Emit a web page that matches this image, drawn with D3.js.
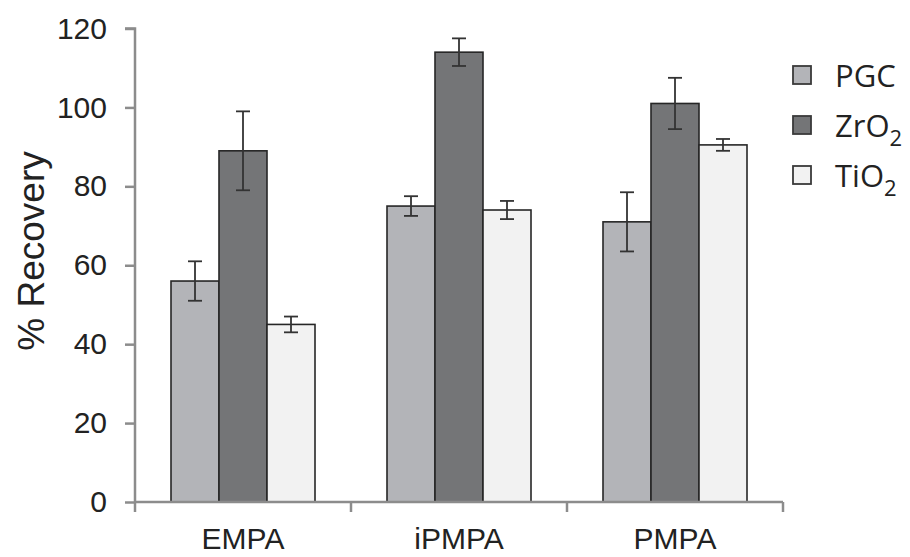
<!DOCTYPE html>
<html>
<head>
<meta charset="utf-8">
<script src="https://cdn.jsdelivr.net/npm/d3@7"></script>
<style>
  html, body { margin: 0; padding: 0; background: #fff; overflow: hidden; }
  svg { display: block; }
  .tick text { font-family: 'Liberation Sans', Arial, sans-serif; font-size: 30px; fill: #222; }
  .axis-label { font-family: 'Liberation Sans', Arial, sans-serif; font-size: 37px; fill: #222; }
  .legend text { font-family: 'Open Sans', sans-serif; font-size: 31px; fill: #222; }
</style>
</head>
<body>
<svg width="910" height="557"></svg>
<script>
const categories = ['EMPA', 'iPMPA', 'PMPA'];
const seriesNames = ['PGC', 'ZrO2', 'TiO2'];
const pgcValues = [56, 75, 71];
const pgcErrors = [5, 2.5, 7.5];
const zro2Values = [89, 114, 101];
const zro2Errors = [10, 3.5, 6.5];
const tio2Values = [45, 74, 90.5];
const tio2Errors = [2, 2.3, 1.5];
const yTicks = [0, 20, 40, 60, 80, 100, 120];

const svg = d3.select('svg');
const width = +svg.attr('width');
const height = +svg.attr('height');

const margin = { top: 28.5, right: 127, bottom: 55, left: 135 };
const innerWidth = width - margin.left - margin.right;
const innerHeight = height - margin.top - margin.bottom;

const colors = { PGC: '#b3b4b8', ZrO2: '#747577', TiO2: '#f2f2f2' };

const table = seriesNames.map((s, si) => {
	const vals = [pgcValues, zro2Values, tio2Values][si];
	const errs = [pgcErrors, zro2Errors, tio2Errors][si];
	return categories.map((c, ci) => ({ series: s, category: c, value: vals[ci], err: errs[ci] }));
}).flat();

const xScale = d3.scaleBand().domain(categories).range([0, innerWidth]).padding(0);
const xInner = d3.scaleBand().domain(seriesNames).range([0, xScale.bandwidth()]).paddingInner(0).paddingOuter(0.75);
const yScale = d3.scaleLinear().domain([0, 120]).range([innerHeight, 0]);

const g = svg.append('g').attr('transform', `translate(${margin.left},${margin.top})`);

// bars
g.selectAll('.bar')
	.data(table)
	.enter()
	.append('rect')
	.attr('class', 'bar')
	.attr('x', d => xScale(d.category) + xInner(d.series))
	.attr('y', d => yScale(d.value))
	.attr('width', xInner.bandwidth())
	.attr('height', d => innerHeight - yScale(d.value))
	.attr('fill', d => colors[d.series])
	.attr('stroke', '#262626')
	.attr('stroke-width', 1.6);

// error bars
const capW = 7;
const errG = g.selectAll('.err').data(table).enter().append('g').attr('class', 'err')
	.attr('stroke', '#333').attr('stroke-width', 1.8);
const cx = d => xScale(d.category) + xInner(d.series) + xInner.bandwidth() / 2;
errG.append('line')
	.attr('x1', cx).attr('x2', cx)
	.attr('y1', d => yScale(d.value + d.err)).attr('y2', d => yScale(d.value - d.err));
errG.append('line')
	.attr('x1', d => cx(d) - capW).attr('x2', d => cx(d) + capW)
	.attr('y1', d => yScale(d.value + d.err)).attr('y2', d => yScale(d.value + d.err));
errG.append('line')
	.attr('x1', d => cx(d) - capW).attr('x2', d => cx(d) + capW)
	.attr('y1', d => yScale(d.value - d.err)).attr('y2', d => yScale(d.value - d.err));

// y axis
const yAxis = d3.axisLeft(yScale).tickValues(yTicks).tickSize(10).tickPadding(18);
const yAxisG = g.append('g').call(yAxis);
yAxisG.select('.domain').attr('stroke', '#8c8c8c').attr('stroke-width', 2.5).attr('d', `M-10,0H0V${innerHeight}`);
yAxisG.selectAll('.tick line').attr('stroke', '#8c8c8c').attr('stroke-width', 2.5);

// x axis with ticks on band boundaries
const xAxisG = g.append('g').attr('transform', `translate(0,${innerHeight})`);
xAxisG.append('path')
	.attr('d', `M0,0H${innerWidth}`)
	.attr('stroke', '#8c8c8c').attr('stroke-width', 2.5).attr('fill', 'none');
const boundaries = categories.map(c => xScale(c)).concat([innerWidth]);
xAxisG.selectAll('.xtick').data(boundaries).enter().append('line')
	.attr('x1', d => d).attr('x2', d => d).attr('y1', 0).attr('y2', 10)
	.attr('stroke', '#8c8c8c').attr('stroke-width', 2.5);
xAxisG.selectAll('.xlabel').data(categories).enter().append('g').attr('class', 'tick')
	.append('text')
	.attr('x', d => xScale(d) + xScale.bandwidth() / 2)
	.attr('y', 47)
	.attr('text-anchor', 'middle')
	.text(d => d);

// axis label
svg.append('text')
	.attr('class', 'axis-label')
	.attr('transform', `translate(44,251) rotate(-90)`)
	.attr('text-anchor', 'middle')
	.text('% Recovery');

// legend
const legendG = svg.append('g').attr('class', 'legend').attr('transform', 'translate(793,75)');
const item = legendG.selectAll('g').data(seriesNames).enter().append('g')
	.attr('transform', (d, i) => `translate(0,${i * 50})`);
item.append('rect')
	.attr('x', 0).attr('y', -9).attr('width', 18).attr('height', 18)
	.attr('fill', d => colors[d])
	.attr('stroke', '#3a3a3a').attr('stroke-width', 1.8);
const txt = item.append('text').attr('x', 42).attr('y', 12);
txt.each(function (d) {
	const t = d3.select(this);
	const m = d.match(/^(.*?)(\d)$/);
	if (m) {
		t.append('tspan').text(m[1]);
		t.append('tspan').attr('dy', 9).style('font-size', '22px').text(m[2]);
	} else {
		t.text(d);
	}
});
</script>
</body>
</html>
